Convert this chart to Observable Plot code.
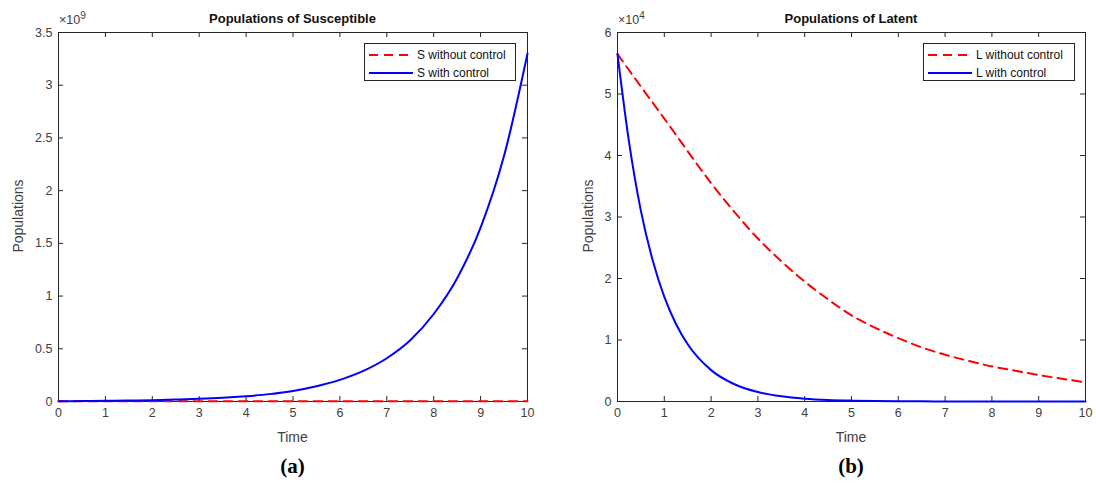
<!DOCTYPE html>
<html><head><meta charset="utf-8">
<script src="https://cdn.jsdelivr.net/npm/d3@7"></script>
<script src="https://cdn.jsdelivr.net/npm/@observablehq/plot@0.6"></script>
<style>
body{margin:0;background:#fff;font-family:"Liberation Sans",Arial,Helvetica,sans-serif;}
#wrap{position:relative;width:1096px;height:484px;overflow:hidden;background:#fff;}
.abs{position:absolute;white-space:nowrap;}
.title{font-weight:bold;font-size:13px;color:#111;transform:translate(-50%,-50%);}
.xlab{font-size:14px;color:#404040;transform:translate(-50%,-50%);}
.ylab{font-size:14px;color:#404040;transform:translate(-50%,-50%) rotate(-90deg);}
.mult{font-size:12.5px;color:#404040;}
.mult sup{font-size:10px;}
.panel{font-family:"Liberation Serif","Times New Roman",serif;font-weight:bold;font-size:21px;color:#000;transform:translate(-50%,-50%);}
.legend{border:1px solid #262626;background:#fff;font-size:12px;color:#111;box-sizing:border-box;}
.legend .row{position:absolute;left:4px;height:16px;display:flex;align-items:center;}
.legend svg{margin-right:4px;}
.chart{position:absolute;top:0;}
</style></head>
<body><div id="wrap"></div>
<script>
// ---- data ----
const timeGrid = [0,0.5,1,1.5,2,2.5,3,3.5,4,4.5,5,5.5,6,6.5,7,7.5,8,8.5,9,9.5,10];
const xTicks = [0,1,2,3,4,5,6,7,8,9,10];

// Panel (a): Susceptible, values in units of 10^9
const sWithoutControl = [0.003,0.003,0.003,0.003,0.003,0.003,0.003,0.003,0.002,0.002,0.002,0.002,0.002,0.002,0.002,0.002,0.002,0.002,0.002,0.002,0.002];
const sWithControl    = [0.003,0.004,0.006,0.009,0.013,0.018,0.025,0.035,0.05,0.07,0.10,0.145,0.205,0.29,0.41,0.58,0.83,1.17,1.65,2.33,3.3];
const sTicks = [0,0.5,1,1.5,2,2.5,3,3.5];

// Panel (b): Latent, values in units of 10^4
const lWithoutControl = [5.65,5.12,4.6,4.07,3.55,3.08,2.65,2.28,1.95,1.66,1.4,1.2,1.03,0.88,0.76,0.66,0.57,0.5,0.43,0.37,0.31];
const timeLc = [0,0.25,0.5,0.75,1,1.25,1.5,2,2.5,3,3.5,4,4.5,5,5.5,6,6.5,7,7.5,8,8.5,9,9.5,10];
const lWithControl = [5.65,4.2,3.1,2.3,1.7,1.26,0.93,0.51,0.28,0.153,0.084,0.046,0.025,0.014,0.0077,0.0042,0.0023,0.0013,0.0007,0.0004,0.0002,0.0001,0.00006,0.00003];
const lTicks = [0,1,2,3,4,5,6];

const legendA = ["S without control","S with control"];
const legendB = ["L without control","L with control"];

// ---- drawing ----
const W = 548, H = 440, MT = 32, MB = 39;
const AX = "#262626";

function panel({left, marginLeft, marginRight, yMax, yTicks, series}) {
  const iw = W - marginLeft - marginRight, ih = H - MT - MB;
  const marks = [
    Plot.frame({stroke: AX, strokeWidth: 1}),
    Plot.tickX(xTicks, {x: d => d, insetTop: ih - 5, stroke: AX}),
    Plot.tickX(xTicks, {x: d => d, insetBottom: ih - 5, stroke: AX}),
    Plot.tickY(yTicks, {y: d => d, insetRight: iw - 5, stroke: AX}),
    Plot.tickY(yTicks, {y: d => d, insetLeft: iw - 5, stroke: AX}),
    Plot.axisX({ticks: xTicks, tickSize: 0, tickPadding: 7, tickFormat: d => String(d), label: null, fill: "#404040"}),
    Plot.axisY({ticks: yTicks, tickSize: 0, tickPadding: 6, tickFormat: d => String(d), label: null, fill: "#404040"})
  ];
  for (const s of series) {
    const rows = s.t.map((t, i) => ({t, v: s.v[i]}));
    marks.push(Plot.line(rows, {x: "t", y: "v", stroke: s.color, strokeWidth: 2,
      strokeDasharray: s.dash || null, curve: "monotone-x", strokeLinejoin: "round"}));
  }
  const svg = Plot.plot({
    width: W, height: H, marginLeft, marginRight, marginTop: MT, marginBottom: MB,
    x: {domain: [0, 10]}, y: {domain: [0, yMax]},
    style: {fontFamily: '"Liberation Sans", Arial, sans-serif', fontSize: "12.5px", background: "transparent", overflow: "visible"},
    marks
  });
  svg.classList.add("chart");
  svg.style.left = left + "px";
  return svg;
}

const wrap = document.getElementById("wrap");
wrap.appendChild(panel({left: 0, marginLeft: 58, marginRight: 21, yMax: 3.5, yTicks: sTicks, series: [
  {t: timeGrid, v: sWithoutControl, color: "#ff0000", dash: "9,6"},
  {t: timeGrid, v: sWithControl, color: "#0000ff"}
]}));
wrap.appendChild(panel({left: 548, marginLeft: 69, marginRight: 11, yMax: 6, yTicks: lTicks, series: [
  {t: timeGrid, v: lWithoutControl, color: "#ff0000", dash: "9,6"},
  {t: timeLc, v: lWithControl, color: "#0000ff"}
]}));

function addDiv(cls, html, x, y, extra) {
  const d = document.createElement("div");
  d.className = "abs " + cls;
  d.innerHTML = html;
  d.style.left = x + "px"; d.style.top = y + "px";
  if (extra) Object.assign(d.style, extra);
  wrap.appendChild(d);
  return d;
}
const cA = 58 + 469 / 2, cB = 617 + 468 / 2;
addDiv("title", "Populations of Susceptible", cA, 18);
addDiv("title", "Populations of Latent", cB, 18);
addDiv("mult", "×10<sup>9</sup>", 59, 10);
addDiv("mult", "×10<sup>4</sup>", 618, 10);
addDiv("xlab", "Time", cA, 437);
addDiv("xlab", "Time", cB, 437);
addDiv("ylab", "Populations", 18, 216);
addDiv("ylab", "Populations", 588, 216);
addDiv("panel", "(a)", cA, 466);
addDiv("panel", "(b)", cB, 466);

function legend(x, labels) {
  const box = addDiv("legend", "", x, 43, {width: "152px", height: "38px"});
  const rows = [["#ff0000", "9,6"], ["#0000ff", null]];
  labels.forEach((lab, i) => {
    const r = document.createElement("div");
    r.className = "row";
    r.style.top = (3 + i * 18) + "px";
    const dash = rows[i][1] ? `stroke-dasharray="${rows[i][1]}"` : "";
    r.innerHTML = `<svg width="44" height="6"><line x1="0" y1="3" x2="44" y2="3" stroke="${rows[i][0]}" stroke-width="2" ${dash}/></svg><span>${lab}</span>`;
    box.appendChild(r);
  });
}
legend(364, legendA);
legend(923, legendB);
</script></body></html>
